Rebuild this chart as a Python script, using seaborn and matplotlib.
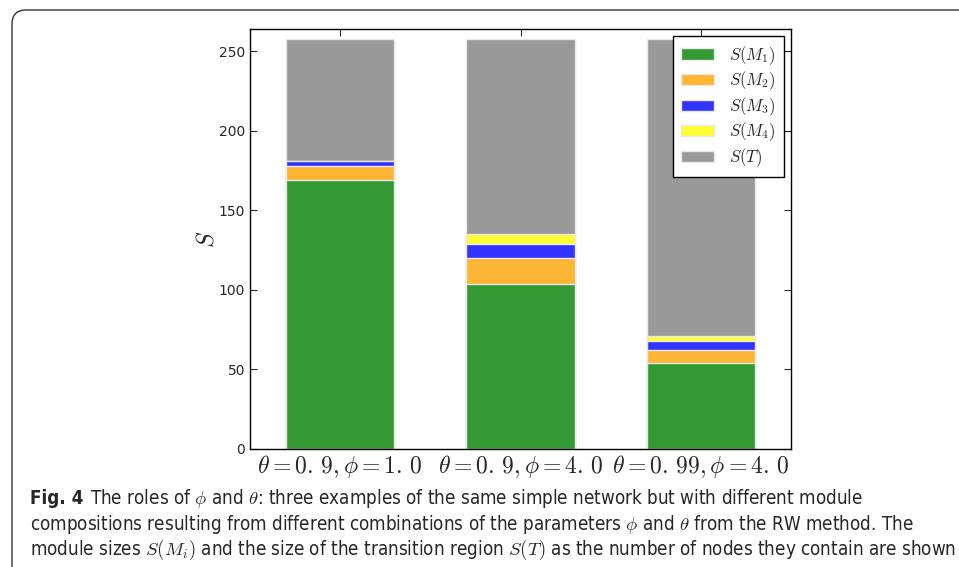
import numpy as np
import pandas as pd
import matplotlib
matplotlib.use('Agg')
import matplotlib.pyplot as plt
import seaborn as sns
from matplotlib.patches import Patch, FancyBboxPatch
from matplotlib import font_manager

# data
conditions = [r'$\theta=0.\,9,\phi=1.\,0$', r'$\theta=0.\,9,\phi=4.\,0$', r'$\theta=0.\,99,\phi=4.\,0$']
s_m1 = [169, 104, 54]
s_m2 = [9, 16, 8]
s_m3 = [3, 9, 6]
s_m4 = [0, 6, 3]
s_t = [77, 123, 187]

layer_names = [r'$S(M_1)$', r'$S(M_2)$', r'$S(M_3)$', r'$S(M_4)$', r'$S(T)$']
layer_colors = ['#339933', '#ffb733', '#3333ff', '#ffff33', '#999999']

sns.set_style('ticks')
plt.rcParams['font.family'] = ['DejaVu Sans']
plt.rcParams['mathtext.fontset'] = 'cm'

df = pd.DataFrame({'cond': conditions, 'M1': s_m1, 'M2': s_m2, 'M3': s_m3,
                   'M4': s_m4, 'T': s_t})
cum = df[['M1', 'M2', 'M3', 'M4', 'T']].cumsum(axis=1)
cum['cond'] = df['cond']

fig = plt.figure(figsize=(9.59, 5.67), dpi=100)
ax = fig.add_axes([250/959, 1-449/567, (791-250)/959, (449-29)/567])

# stacked bars: draw cumulative totals from the top layer down
for col, c in zip(['T', 'M4', 'M3', 'M2', 'M1'], layer_colors[::-1]):
    sns.barplot(data=cum, x='cond', y=col, color=c, width=0.6, ax=ax,
                edgecolor='#e8e8e8', linewidth=1, saturation=1)

ax.set_xlim(-0.5, 2.5)
ax.set_ylim(0, 264)
ax.set_yticks([0, 50, 100, 150, 200, 250])
ax.set_xlabel('')
ax.set_ylabel(r'$S$', fontsize=17, labelpad=0)
ax.tick_params(direction='in', top=True, right=True, length=5, width=0.8)
ax.tick_params(axis='y', labelsize=10)
ax.tick_params(axis='x', labelsize=17, pad=3)
for sp in ax.spines.values():
    sp.set_visible(True)
    sp.set_color('black')
    sp.set_linewidth(1)

handles = [Patch(facecolor=c, edgecolor='#e8e8e8') for c in layer_colors]
leg = ax.legend(handles, layer_names, loc='upper right', fontsize=12,
                fancybox=False, framealpha=1, edgecolor='black',
                handlelength=2.0, handleheight=0.65, labelspacing=0.17,
                borderaxespad=0.4, handletextpad=0.9, borderpad=0.5)
leg.get_frame().set_linewidth(1)

# rounded frame around the figure panel
box = FancyBboxPatch((0.12, -0.5), 12, 5.57 + 0.5,
                     boxstyle='round,pad=0,rounding_size=0.14',
                     transform=fig.dpi_scale_trans, facecolor='none',
                     edgecolor='#333333', linewidth=1, clip_on=False)
fig.add_artist(box)

cap = font_manager.FontProperties(family=['DejaVu Sans'], stretch='condensed', size=13.5)
cap_bold = font_manager.FontProperties(family=['DejaVu Sans'], stretch='condensed',
                                       weight='bold', size=13.5)
t1 = fig.text(30/959, 1-498/567, 'Fig. 4', fontproperties=cap_bold,
              va='center', ha='left')
ax.annotate(r'The roles of $\phi$ and $\theta$: three examples of the same simple network but with different module',
            xy=(1, 0.5), xycoords=t1, xytext=(5, 0), textcoords='offset points',
            va='center', ha='left', fontproperties=cap, annotation_clip=False)
fig.text(30/959, 1-524/567,
         r'compositions resulting from different combinations of the parameters $\phi$ and $\theta$ from the RW method. The',
         fontproperties=cap, va='center', ha='left')
fig.text(30/959, 1-550/567,
         r'module sizes $S(M_i)$ and the size of the transition region $S(T)$ as the number of nodes they contain are shown',
         fontproperties=cap, va='center', ha='left')

fig.savefig('out.png', dpi=100)
